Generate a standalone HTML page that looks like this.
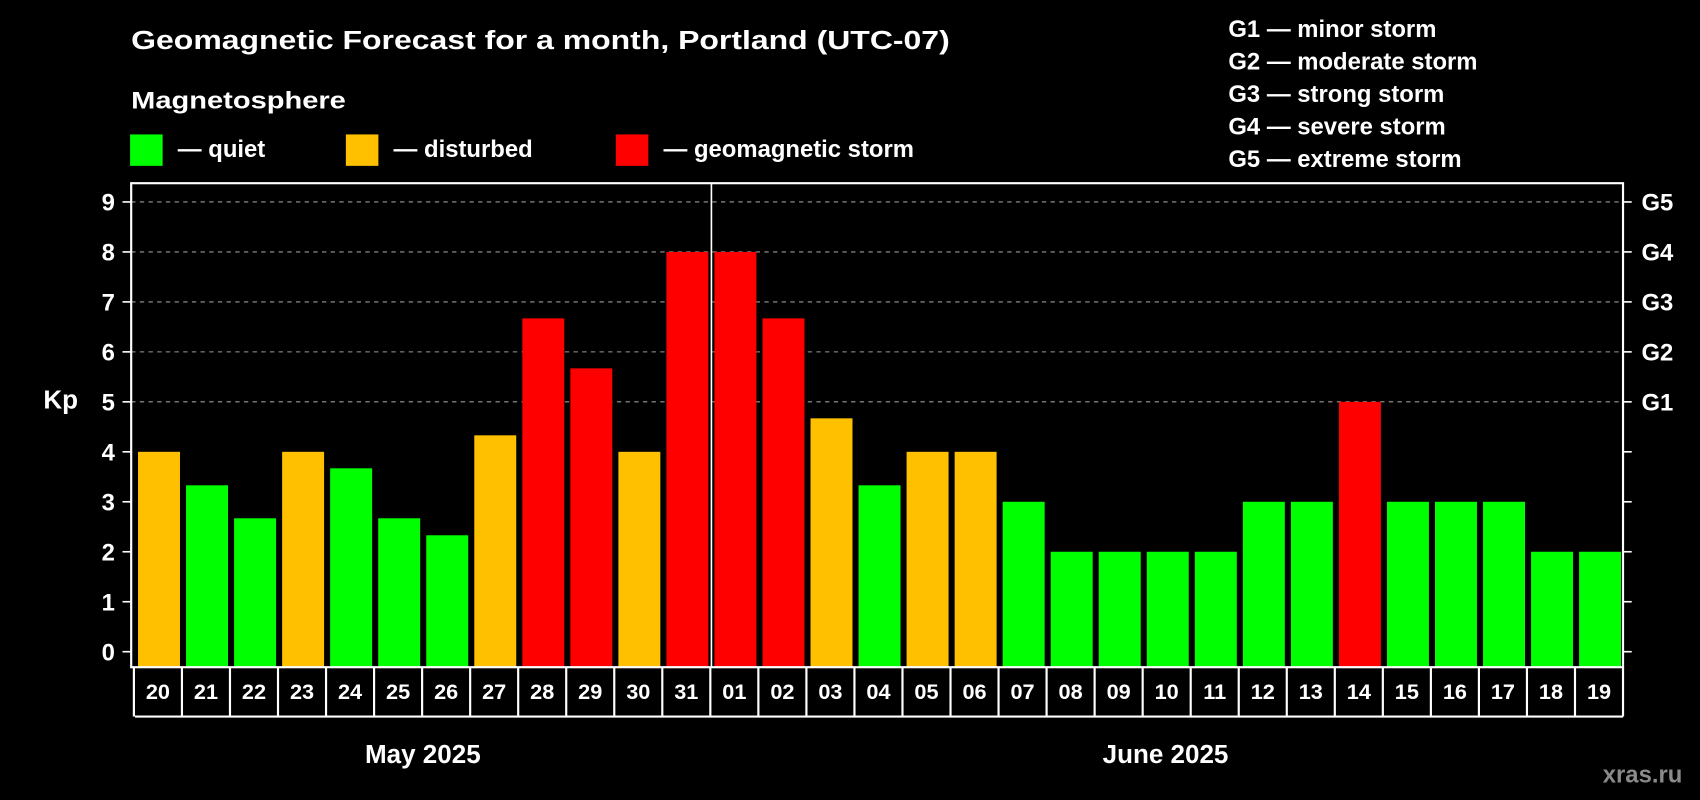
<!DOCTYPE html>
<html><head><meta charset="utf-8"><style>
html,body{margin:0;padding:0;background:#000;}
svg{display:block;font-family:"Liberation Sans",Arial,sans-serif;font-weight:bold;}
</style></head><body>
<svg id="chart" width="1700" height="800" viewBox="0 0 1568 738" preserveAspectRatio="none" xmlns="http://www.w3.org/2000/svg">
<rect x="0" y="0" width="1568" height="738" fill="#000"/>
<text x="121" y="45" fill="#fff" font-size="24" textLength="755" lengthAdjust="spacingAndGlyphs">Geomagnetic Forecast for a month, Portland (UTC-07)</text>
<text x="121" y="100" fill="#fff" font-size="22" textLength="198" lengthAdjust="spacingAndGlyphs">Magnetosphere</text>
<g><rect x="120" y="124" width="30" height="29" fill="#00ff00"/><text x="164" y="145" fill="#fff" font-size="22">— quiet</text></g>
<g><rect x="319" y="124" width="30" height="29" fill="#ffc000"/><text x="363" y="145" fill="#fff" font-size="22">— disturbed</text></g>
<g><rect x="568" y="124" width="30" height="29" fill="#ff0000"/><text x="612" y="145" fill="#fff" font-size="22">— geomagnetic storm</text></g>
<g fill="#fff" font-size="22">
<text x="1133" y="34">G1 — minor storm</text>
<text x="1133" y="64">G2 — moderate storm</text>
<text x="1133" y="94">G3 — strong storm</text>
<text x="1133" y="124">G4 — severe storm</text>
<text x="1133" y="154">G5 — extreme storm</text>
</g>
<text x="40" y="377" fill="#fff" font-size="24">Kp</text>
<g id="grid"></g><g id="bars"></g><g id="axes"></g>
<text x="390" y="704" fill="#fff" font-size="24" text-anchor="middle">May 2025</text>
<text x="1075" y="704" fill="#fff" font-size="24" text-anchor="middle">June 2025</text>
<text x="1515" y="722" fill="#8a8a8a" font-size="22" text-anchor="middle">xras.ru</text>
</svg>
<script>
const days = ["20","21","22","23","24","25","26","27","28","29","30","31","01","02","03","04","05","06","07","08","09","10","11","12","13","14","15","16","17","18","19"];
const kpValues = [4,3.33,2.67,4,3.67,2.67,2.33,4.33,6.67,5.67,4,8,8,6.67,4.67,3.33,4,4,3,2,2,2,2,3,3,5,3,3,3,2,2];
const yTicks = [0,1,2,3,4,5,6,7,8,9];
const gLabels = ["","","","","","G1","G2","G3","G4","G5"];
const monthSplit = 12;

const NS="http://www.w3.org/2000/svg";
const L=121,R=1497,T=169,B=615.5,Y0=601.2,UNIT=46.1,X0=124.5,BOXB=661;
const PITCH=(R+1-X0)/days.length;
function y(v){return Y0-v*UNIT;}
function x(i){return X0+i*PITCH;}
function mk(tag,attrs,parent){const e=document.createElementNS(NS,tag);for(const k in attrs)e.setAttribute(k,attrs[k]);parent.appendChild(e);return e;}
function color(v){return v>=5?"#ff0000":(v>=4?"#ffc000":"#00ff00");}
const grid=document.getElementById("grid"),bars=document.getElementById("bars"),axes=document.getElementById("axes");

yTicks.forEach((t,i)=>{
  const yy=y(t);
  if(t>=5){const g=mk("line",{x1:L,x2:R,y1:yy,y2:yy,stroke:"#9a9a9a","stroke-width":1,"stroke-dasharray":"4 4"},grid);
    
    }
  mk("line",{x1:L-8,x2:L,y1:yy,y2:yy,stroke:"#fff","stroke-width":1.5},axes);
  mk("line",{x1:R,x2:R+8,y1:yy,y2:yy,stroke:"#fff","stroke-width":1.5},axes);
  const tl=mk("text",{x:106,y:yy+8,fill:"#fff","font-size":22,"text-anchor":"end"},axes);
  tl.textContent=t;
  
  
  if(gLabels[i]){const gl=mk("text",{x:1514,y:yy+8,fill:"#fff","font-size":22},axes);
    gl.textContent=gLabels[i];
    
    }
});

kpValues.forEach((v,i)=>{
  const r=mk("rect",{x:x(i)+2.8,y:y(v),width:PITCH-5.6,height:B-y(v),fill:color(v)},bars);
  
  
});

mk("rect",{x:L,y:T,width:R-L,height:B-T,fill:"none",stroke:"#fff","stroke-width":2},axes);
const dv=mk("line",{x1:x(monthSplit),x2:x(monthSplit),y1:T,y2:B,stroke:"#fff","stroke-width":1.5},axes);


mk("line",{x1:x(0),x2:R,y1:BOXB,y2:BOXB,stroke:"#fff","stroke-width":2},axes);
for(let i=0;i<=days.length;i++){mk("line",{x1:x(i)-1,x2:x(i)-1,y1:B,y2:BOXB,stroke:"#fff","stroke-width":2},axes);}
days.forEach((d,i)=>{
  const t=mk("text",{x:x(i)+PITCH/2-1,y:645,fill:"#fff","font-size":20,"text-anchor":"middle"},axes);
  t.textContent=d;
  
  
});
</script>
</body></html>
